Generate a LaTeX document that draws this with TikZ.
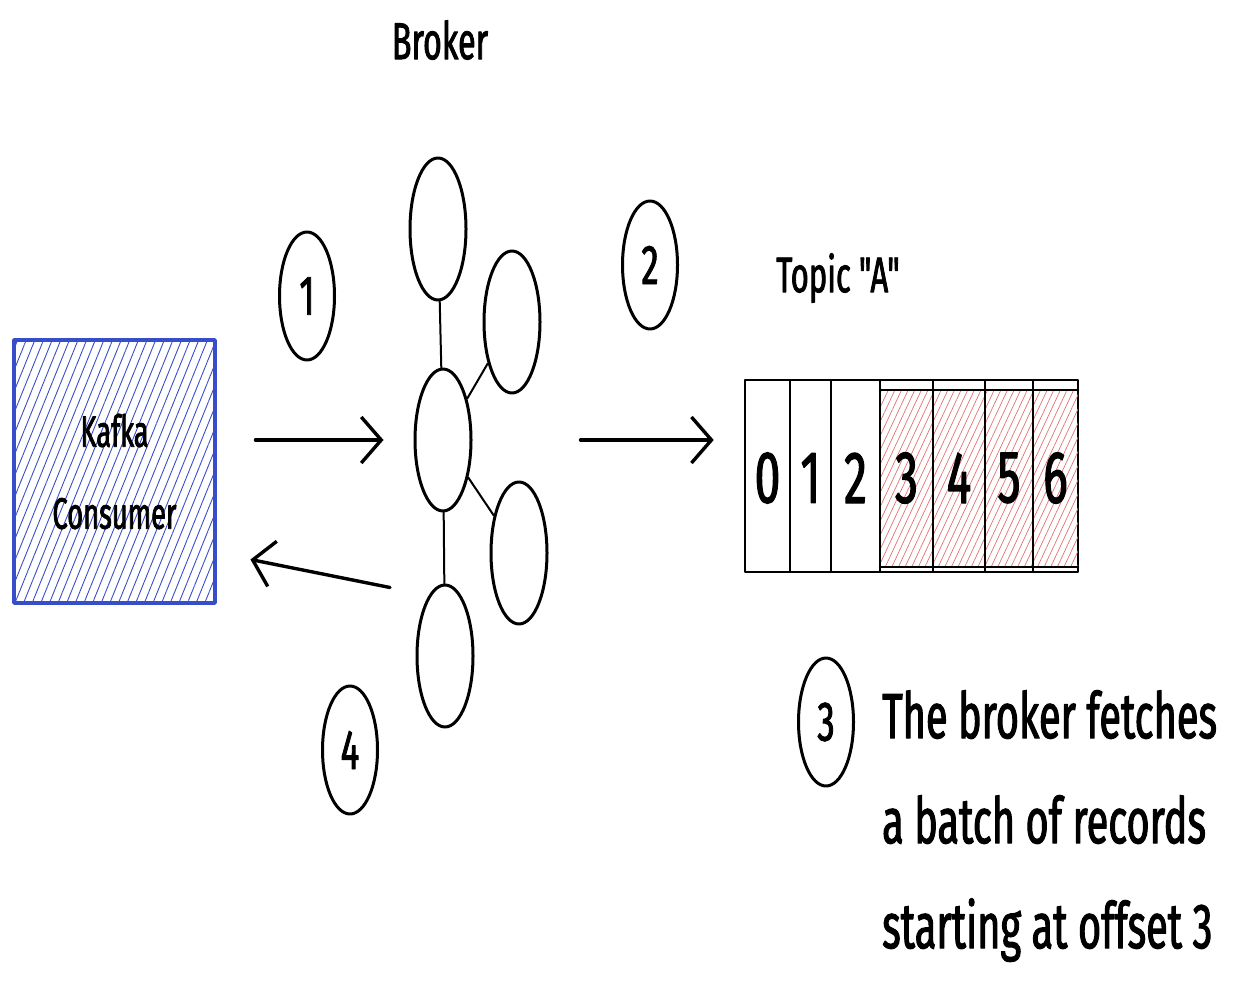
\documentclass[tikz,border=0pt]{standalone}
\usepackage{fontspec}
\newfontfamily\hand[FakeStretch=0.62,FakeBold=1.6]{Fira Sans}
\usepackage{tikz}
\usetikzlibrary{arrows.meta,shapes.geometric,patterns.meta}
\definecolor{consumerblue}{RGB}{56,78,200}
\definecolor{batchred}{RGB}{226,112,112}
\newcommand{\handsize}[2]{\hand\fontsize{#1}{#2}\selectfont}
\tikzset{
  every picture/.style={line join=round, line cap=round, >=Stealth},
  blob/.style={draw, ellipse, line width=3pt, minimum width=56pt, minimum height=142pt, inner sep=0pt},
  num/.style={draw, ellipse, line width=3pt, minimum width=55pt, minimum height=128pt, inner sep=0pt, font=\handsize{56}{56}},
  arr/.style={line width=3.4pt, -{Straight Barb[length=20pt,width=46pt]}},
  link/.style={line width=2pt},
}

\begin{document}
\begin{tikzpicture}[x=1pt,y=-1pt]
\useasboundingbox(0,0)rectangle(1253,1003);
% consumer
\node[draw=consumerblue,line width=3.5pt,pattern={Lines[angle=68,distance=8pt,line width=0.9pt]},pattern color=consumerblue,
  minimum width=201pt,minimum height=263pt,align=center,font=\handsize{44}{82}](consumer)at(114.5,471.5){Kafka\\Consumer};
% broker
\node[font=\handsize{52}{52}](brokerlabel)at(440,40){Broker};
\node[blob](top)at(438,229){};
\node[blob](ur)at(512,322){};
\node[blob](hub)at(443,440){};
\node[blob](lr)at(519,553){};
\node[blob](low)at(445,656){};
\draw[link](top)--(hub)(hub)--(ur)(hub)--(lr)(hub)--(low);
% steps
\node[num](s1)at(307,296){1};
\node[num](s2)at(650,265){2};
\node[num](s4)at(350,750){4};
\node[num](s3)at(826,722){3};
% topic
\node[font=\handsize{50}{50}](topiclabel)at(838,278){Topic "A"};
\node[draw,line width=2.6pt,minimum width=333pt,minimum height=192pt,inner sep=0pt](topic)at(911.5,476){};
\path[pattern={Lines[angle=65,distance=6pt,line width=0.7pt]},pattern color=batchred](880,390)rectangle(1078,567);
\draw[line width=2.6pt](880,390)--(1078,390)(880,567)--(1078,567);
\foreach \x in {790,831,880,933,985,1033}
  \draw[line width=1.6pt](\x,380)--(\x,572);
\foreach \d/\x in {0/767.5,1/810.5,2/855.5,3/906.5,4/959,5/1009,6/1055.5}
  \node[font=\handsize{74}{74}](cell\d)at(\x,478){\d};
% arrows
\draw[arr,shorten <=40pt,shorten >=30pt](consumer.east|-hub.west)--(hub.west);
\draw[arr]([shift={(-53,75)}]hub.south)--([shift={(35,88)}]consumer.east);
\draw[arr,shorten <=108pt,shorten >=30pt](hub.east)--(hub.east-|topic.west);
% note
\node[anchor=north west,inner sep=0pt,align=left,font=\handsize{64}{105}](note)at(882,690){The broker fetches\\a batch of records\\starting at offset 3};
\end{tikzpicture}
\end{document}
